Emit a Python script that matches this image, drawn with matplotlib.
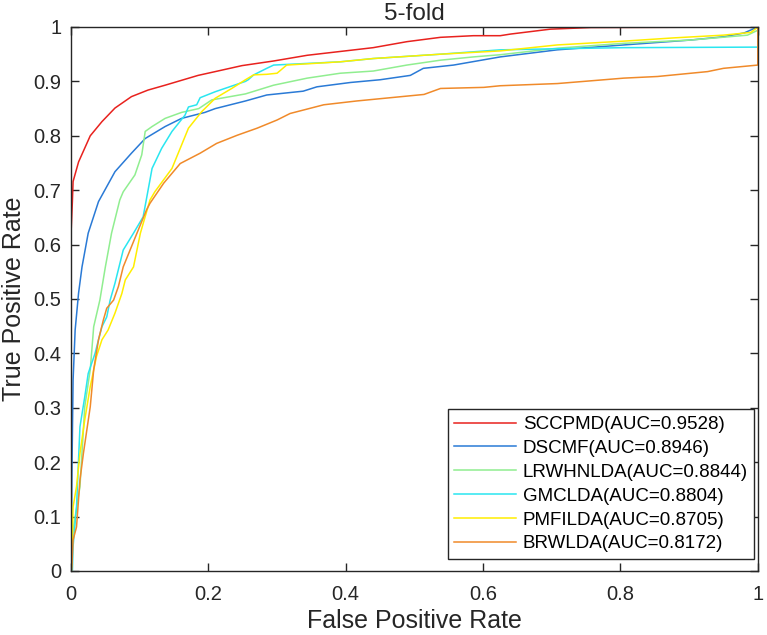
import matplotlib
matplotlib.use("Agg")
import matplotlib.pyplot as plt

plt.rcParams['font.family'] = ['Liberation Sans', 'DejaVu Sans']

# ROC-Kurven
sccpmd_fpr = [0, 0, 0.002, 0.003, 0.011, 0.028, 0.045, 0.064, 0.088, 0.112, 0.137, 0.161, 0.185,
              0.21, 0.249, 0.295, 0.344, 0.392, 0.44, 0.489, 0.538, 0.586, 0.625, 0.64, 0.698, 0.757, 1.0]
sccpmd_tpr = [0, 0.62, 0.68, 0.716, 0.752, 0.80, 0.826, 0.851, 0.872, 0.884, 0.893, 0.902, 0.911,
              0.918, 0.929, 0.9375, 0.948, 0.955, 0.962, 0.973, 0.981, 0.984, 0.984, 0.987, 0.996, 0.999, 1.0]

dscmf_fpr = [0, 0.0015, 0.003, 0.006, 0.011, 0.016, 0.025, 0.04, 0.064, 0.088, 0.108, 0.137, 0.161,
             0.195, 0.21, 0.254, 0.285, 0.338, 0.358, 0.407, 0.45, 0.494, 0.513, 0.557, 0.625, 0.708,
             0.805, 0.902, 0.95, 0.98, 1.0]
dscmf_tpr = [0, 0.2, 0.351, 0.443, 0.511, 0.559, 0.621, 0.679, 0.734, 0.768, 0.795, 0.817, 0.832,
             0.843, 0.85, 0.864, 0.875, 0.882, 0.89, 0.898, 0.903, 0.911, 0.924, 0.93, 0.945, 0.958,
             0.967, 0.976, 0.982, 0.989, 1.0]

lrwhnlda_fpr = [0, 0.003, 0.013, 0.02, 0.028, 0.033, 0.042, 0.05, 0.059, 0.071, 0.076, 0.093, 0.103,
                0.108, 0.118, 0.137, 0.161, 0.186, 0.205, 0.254, 0.295, 0.344, 0.392, 0.44, 0.489,
                0.538, 0.586, 0.625, 0.708, 0.805, 0.902, 0.985, 1.0, 1.0]
lrwhnlda_tpr = [0, 0.075, 0.155, 0.302, 0.37, 0.449, 0.498, 0.559, 0.621, 0.682, 0.697, 0.728, 0.765,
                0.808, 0.817, 0.832, 0.843, 0.85, 0.866, 0.877, 0.893, 0.906, 0.915, 0.919, 0.93,
                0.939, 0.945, 0.949, 0.961, 0.97, 0.976, 0.985, 0.994, 1.0]

gmclda_fpr = [0, 0.002, 0.003, 0.008, 0.013, 0.02, 0.025, 0.035, 0.04, 0.045, 0.052, 0.057, 0.064,
              0.076, 0.091, 0.105, 0.11, 0.118, 0.132, 0.147, 0.166, 0.171, 0.183, 0.188, 0.21,
              0.254, 0.258, 0.266, 0.285, 0.295, 0.392, 0.44, 0.538, 0.625, 0.708, 0.805, 1.0, 1.0]
gmclda_tpr = [0, 0.0, 0.045, 0.118, 0.265, 0.32, 0.363, 0.40, 0.425, 0.449, 0.467, 0.498, 0.529,
              0.59, 0.621, 0.651, 0.685, 0.74, 0.777, 0.808, 0.838, 0.853, 0.857, 0.87, 0.881,
              0.90, 0.903, 0.912, 0.924, 0.93, 0.936, 0.942, 0.95, 0.958, 0.96, 0.962, 0.963, 1.0]

pmfilda_fpr = [0, 0.001, 0.003, 0.008, 0.013, 0.02, 0.028, 0.037, 0.045, 0.054, 0.064, 0.074, 0.079,
               0.091, 0.101, 0.115, 0.122, 0.147, 0.159, 0.171, 0.19, 0.21, 0.234, 0.254, 0.266,
               0.285, 0.30, 0.314, 0.392, 0.44, 0.538, 0.625, 0.708, 0.805, 0.878, 0.95, 0.99, 1.0]
pmfilda_tpr = [0, 0.015, 0.118, 0.155, 0.216, 0.278, 0.339, 0.394, 0.425, 0.443, 0.474, 0.51, 0.535,
               0.559, 0.621, 0.682, 0.697, 0.74, 0.777, 0.814, 0.844, 0.869, 0.887, 0.903, 0.912,
               0.913, 0.915, 0.93, 0.936, 0.942, 0.95, 0.956, 0.967, 0.974, 0.98, 0.985, 0.99, 1.0]

brwlda_fpr = [0, 0.001, 0.003, 0.008, 0.013, 0.018, 0.023, 0.028, 0.033, 0.04, 0.047, 0.052, 0.062,
              0.069, 0.076, 0.096, 0.11, 0.115, 0.135, 0.159, 0.188, 0.212, 0.242, 0.271, 0.30,
              0.319, 0.368, 0.416, 0.465, 0.514, 0.538, 0.601, 0.625, 0.708, 0.805, 0.854, 0.927,
              0.95, 1.0, 1.0]
brwlda_tpr = [0, 0.0, 0.057, 0.081, 0.167, 0.216, 0.259, 0.302, 0.37, 0.425, 0.461, 0.483, 0.498,
              0.523, 0.559, 0.621, 0.664, 0.676, 0.713, 0.749, 0.768, 0.786, 0.801, 0.814, 0.829,
              0.841, 0.857, 0.864, 0.87, 0.876, 0.887, 0.889, 0.892, 0.896, 0.906, 0.909, 0.918,
              0.924, 0.93, 1.0]

labels = ['SCCPMD(AUC=0.9528)', 'DSCMF(AUC=0.8946)', 'LRWHNLDA(AUC=0.8844)',
          'GMCLDA(AUC=0.8804)', 'PMFILDA(AUC=0.8705)', 'BRWLDA(AUC=0.8172)']
colors = ['#e8221e', '#2a7ad6', '#90ee90', '#2ae6f0', '#ffee00', '#f08a2a']

curves = [(sccpmd_fpr, sccpmd_tpr), (dscmf_fpr, dscmf_tpr), (lrwhnlda_fpr, lrwhnlda_tpr),
          (gmclda_fpr, gmclda_tpr), (pmfilda_fpr, pmfilda_tpr), (brwlda_fpr, brwlda_tpr)]

fig = plt.figure(figsize=(7.67, 6.35), dpi=100)
ax = fig.add_axes([0.0926, 0.1008, 0.8954, 0.8567])

for (fpr, tpr), lab, col in zip(curves, labels, colors):
    ax.plot(fpr, tpr, color=col, lw=1.1, label=lab)

ax.set_xlim(0, 1)
ax.set_ylim(0, 1)
ax.set_xticks([0, 0.2, 0.4, 0.6, 0.8, 1])
ax.set_xticklabels(['0', '0.2', '0.4', '0.6', '0.8', '1'])
ax.set_yticks([i / 10 for i in range(11)])
ax.set_yticklabels(['0'] + [f'{i / 10:.1f}' for i in range(1, 10)] + ['1'])
ax.tick_params(direction='in', length=6, width=1, colors='#262626', labelsize=14.5,
               top=True, right=True)
ax.tick_params(axis='x', pad=10)
ax.tick_params(axis='y', pad=7)
for s in ax.spines.values():
    s.set_color('#262626')
    s.set_linewidth(1)

ax.set_xlabel('False Positive Rate', fontsize=18, color='#262626', labelpad=4)
ax.set_ylabel('True Positive Rate', fontsize=18, color='#262626', labelpad=5)
ax.set_title('5-fold', fontsize=17.5, color='#262626', pad=5)

leg = ax.legend(loc='lower right', bbox_to_anchor=(0.995, 0.022), borderaxespad=0,
                fontsize=13.5, handlelength=3.3, handletextpad=0.35, labelspacing=0.36,
                borderpad=0.35, fancybox=False, framealpha=1, edgecolor='#262626')
leg.get_frame().set_linewidth(1)

plt.savefig('out.png', dpi=100)
